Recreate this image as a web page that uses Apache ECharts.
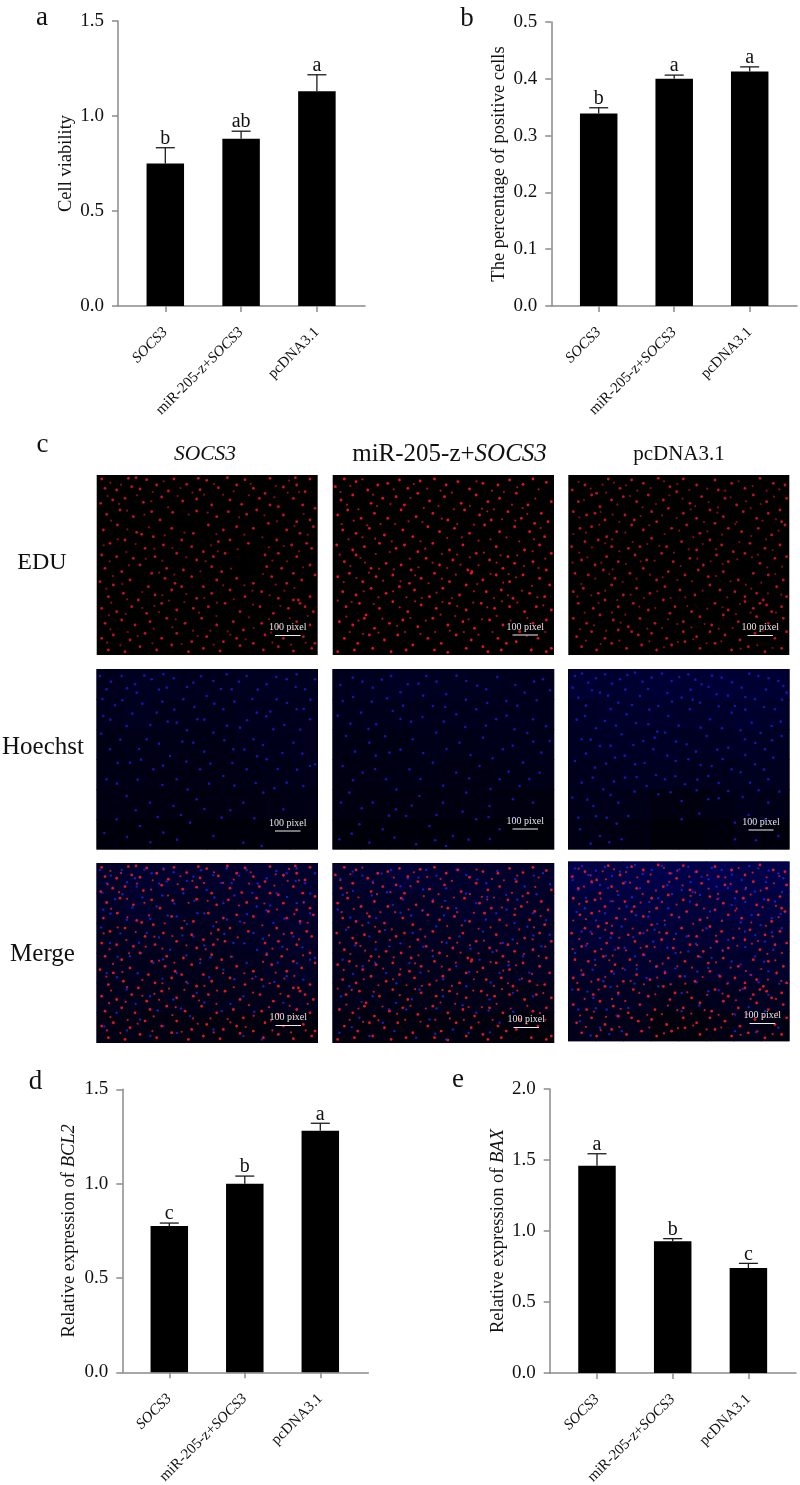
<!DOCTYPE html>
<html><head><meta charset="utf-8">
<style>html,body{margin:0;padding:0;background:#fff}#c{width:800px;height:1485px}</style>
<script src="https://cdn.jsdelivr.net/npm/echarts@6/dist/echarts.min.js"></script>
</head><body><div id="c"></div>
<script>
const categories=['SOCS3','miR-205-z+SOCS3','pcDNA3.1'];
const viability=[0.75,0.88,1.13], viabilityErr=[0.833,0.92,1.217], viabilityLetters=['b','ab','a'];
const positive=[0.339,0.400,0.413], positiveErr=[0.349,0.4065,0.421], positiveLetters=['b','a','a'];
const bcl2=[0.775,1.00,1.28], bcl2Err=[0.791,1.04,1.32], bcl2Letters=['c','b','a'];
const bax=[1.46,0.927,0.739], baxErr=[1.544,0.946,0.772], baxLetters=['a','b','c'];

const eduSocs=[[15,12],[95,10],[118,8],[150,14],[232,12],[305,10],[330,16],[392,8],[445,14],[520,10],[596,8],[640,12],[25,40],[60,45],[105,35],[130,42],[180,30],[215,48],[270,28],[310,44],[365,38],[420,30],[470,40],[505,55],[560,36],[600,30],[625,50],[12,85],[48,75],[85,70],[140,82],[195,66],[228,112],[258,78],[300,72],[345,90],[400,75],[435,88],[488,70],[520,90],[545,95],[590,70],[618,90],[655,100],[30,118],[70,105],[110,125],[165,110],[190,135],[300,108],[360,125],[395,110],[450,118],[480,105],[560,120],[600,140],[640,135],[20,165],[62,150],[120,172],[135,178],[170,185],[225,160],[290,175],[335,150],[380,165],[420,155],[470,160],[515,145],[570,165],[610,175],[650,155],[40,205],[85,195],[145,220],[200,210],[255,195],[285,215],[320,230],[365,200],[400,195],[455,205],[540,195],[585,210],[630,205],[15,240],[60,245],[110,250],[175,245],[240,235],[300,255],[350,245],[385,235],[505,240],[545,235],[600,245],[645,220],[25,280],[75,290],[130,270],[165,295],[210,280],[260,285],[345,275],[375,290],[510,275],[555,280],[590,295],[640,270],[10,320],[50,330],[100,315],[155,335],[205,310],[235,325],[285,305],[320,335],[360,315],[420,310],[470,325],[525,305],[570,325],[615,315],[655,300],[35,365],[80,355],[125,375],[175,360],[225,345],[255,335],[300,370],[345,355],[400,345],[445,365],[495,350],[545,370],[590,375],[610,385],[640,365],[15,400],[60,410],[105,395],[150,415],[195,385],[240,405],[290,400],[335,395],[385,385],[430,410],[490,395],[530,415],[575,400],[605,375],[625,395],[650,410],[25,445],[75,435],[115,450],[160,440],[210,430],[265,445],[315,430],[360,450],[410,440],[440,465],[495,445],[545,455],[600,440],[640,450],[15,490],[50,480],[100,495],[145,475],[195,490],[240,475],[285,500],[330,485],[380,500],[420,490],[470,505],[505,480],[560,490],[620,485],[655,505],[35,525],[85,530],[130,515],[180,525],[225,510],[275,530],[320,520],[370,528],[430,512],[500,525],[545,515],[590,528],[645,520]];
const eduMir=[[8,35],[35,12],[70,20],[105,45],[135,30],[165,25],[200,15],[225,40],[262,18],[305,12],[340,30],[375,20],[410,42],[450,25],[495,30],[530,15],[570,28],[600,12],[640,22],[25,75],[60,60],[115,85],[150,70],[190,65],[215,90],[255,55],[290,78],[335,65],[385,85],[430,60],[465,80],[500,70],[550,55],[585,90],[625,115],[655,80],[15,120],[45,105],[85,130],[125,115],[165,130],[205,105],[250,125],[300,115],[345,135],[395,105],[440,120],[475,135],[525,110],[565,130],[605,145],[645,140],[30,165],[70,175],[110,160],[155,180],[210,165],[240,185],[285,155],[320,170],[365,160],[410,175],[455,150],[500,170],[545,155],[590,170],[635,185],[12,210],[60,225],[95,215],[140,205],[190,220],[215,210],[255,230],[300,205],[350,225],[390,210],[430,235],[490,215],[525,245],[575,225],[620,210],[655,235],[35,260],[70,240],[115,280],[160,265],[205,270],[235,285],[280,250],[320,270],[360,255],[405,285],[470,255],[510,280],[545,265],[600,260],[640,285],[15,305],[50,295],[90,320],[130,305],[180,300],[230,325],[265,310],[305,295],[350,320],[415,295],[417,290],[450,315],[490,300],[530,320],[570,300],[620,310],[650,330],[30,350],[70,360],[115,340],[160,355],[200,335],[245,345],[290,365],[330,340],[380,360],[400,330],[460,350],[505,345],[540,370],[590,355],[635,365],[40,395],[80,385],[100,420],[140,400],[180,380],[225,410],[265,390],[310,400],[350,385],[400,405],[445,385],[485,400],[530,395],[575,410],[610,395],[655,405],[20,440],[60,450],[95,430],[125,460],[170,445],[210,435],[255,455],[300,430],[345,450],[390,440],[425,460],[470,435],[510,450],[560,470],[600,445],[640,435],[35,490],[75,505],[110,480],[155,495],[195,480],[240,510],[285,490],[325,505],[370,480],[415,495],[450,515],[495,490],[520,505],[550,500],[615,490],[655,520],[15,530],[65,525],[120,520],[175,530],[220,525],[305,525],[345,532],[400,520],[465,530],[505,525],[595,525],[640,530]];
const eduPc=[[12,45],[50,30],[85,55],[120,12],[155,40],[190,15],[225,25],[270,10],[305,35],[345,12],[385,30],[440,15],[450,45],[490,25],[530,40],[575,10],[615,25],[650,30],[30,80],[70,60],[95,95],[130,75],[165,65],[205,80],[240,60],[285,75],[325,50],[365,85],[400,65],[470,70],[505,90],[555,60],[595,80],[635,105],[655,70],[15,110],[55,120],[80,115],[110,135],[170,120],[198,135],[250,110],[300,100],[345,115],[385,130],[425,105],[465,125],[525,110],[565,130],[600,115],[640,140],[35,160],[70,155],[115,185],[145,170],[190,150],[225,165],[265,140],[310,160],[355,150],[395,175],[440,145],[480,160],[520,170],[570,160],[610,180],[650,150],[10,215],[50,200],[90,195],[130,215],[180,220],[215,215],[250,190],[295,215],[340,200],[385,225],[425,195],[460,210],[495,230],[545,205],[590,220],[635,210],[40,255],[80,270],[115,245],[150,260],[200,240],[235,255],[280,235],[315,260],[365,250],[405,270],[445,240],[480,260],[530,235],[575,265],[620,250],[655,245],[20,295],[60,300],[105,285],[140,310],[185,295],[225,280],[265,315],[300,290],[350,300],[390,285],[420,305],[465,290],[510,315],[555,295],[600,300],[645,315],[15,350],[45,340],[90,355],[130,330],[165,360],[205,340],[245,355],[290,335],[335,345],[380,360],[425,330],[455,345],[500,350],[530,365],[565,355],[585,375],[625,335],[655,365],[30,385],[75,400],[110,375],[150,395],[195,385],[240,405],[285,375],[320,395],[370,410],[440,385],[480,405],[530,380],[555,400],[575,385],[595,390],[610,410],[640,395],[15,430],[55,445],[95,420],[135,435],[180,455],[215,430],[260,445],[305,415],[345,440],[395,425],[430,450],[465,420],[510,440],[565,425],[600,445],[645,430],[25,485],[70,470],[110,490],[150,465],[190,470],[210,480],[250,475],[295,490],[345,470],[385,485],[425,470],[470,480],[515,495],[560,475],[620,490],[655,470],[40,515],[85,525],[130,505],[175,520],[220,510],[265,525],[310,510],[350,500],[395,520],[440,505],[490,525],[540,515],[590,530],[640,520]];
// fainter red nuclei between the bright ones
const eduSocsDim=[[41,23],[73,29],[168,51],[201,19],[251,39],[287,53],[352,27],[411,49],[462,27],[537,33],[577,17],[33,63],[67,87],[121,61],[163,79],[243,63],[322,59],[379,59],[457,61],[533,67],[573,53],[607,51],[91,107],[143,119],[214,97],[276,119],[333,113],[427,127],[503,121],[541,139],[621,117],[43,137],[92,163],[157,157],[204,181],[263,173],[359,177],[443,179],[497,187],[593,153],[633,179],[21,211],[63,193],[117,207],[173,221],[227,219],[343,211],[423,223],[517,217],[561,213],[607,229],[39,259],[89,231],[147,251],[197,257],[269,247],[327,259],[363,229],[527,257],[571,259],[619,277],[49,303],[97,271],[187,293],[233,299],[311,289],[403,281],[443,331],[499,297],[537,329],[593,339],[29,341],[77,327],[137,351],[197,361],[269,357],[323,369],[379,331],[467,347],[519,361],[563,347],[43,383],[91,373],[173,393],[217,377],[263,381],[361,383],[411,373],[469,389],[551,393],[633,423],[37,421],[87,417],[137,399],[187,411],[237,433],[307,413],[359,423],[457,427],[517,433],[579,429],[41,463],[93,471],[171,461],[227,457],[289,467],[341,467],[393,469],[471,459],[523,473],[593,463],[31,503],[71,511],[123,483],[167,505],[255,507],[303,483],[351,509],[401,479],[447,493],[527,503],[583,509],[627,503]];
const eduMirDim=[[23,51],[53,33],[89,13],[121,59],[183,43],[243,27],[283,41],[323,47],[357,53],[431,19],[477,47],[513,51],[553,37],[617,43],[43,89],[77,103],[133,93],[173,87],[233,69],[273,99],[317,93],[363,103],[411,93],[447,101],[483,103],[537,89],[569,99],[607,71],[27,147],[63,137],[103,151],[143,147],[187,147],[227,139],[269,141],[327,131],[373,147],[423,149],[463,109],[507,133],[547,137],[583,117],[623,159],[47,193],[89,187],[127,191],[177,199],[263,199],[343,189],[387,187],[437,197],[473,193],[521,187],[559,199],[603,193],[21,239],[83,249],[129,237],[171,231],[231,251],[277,221],[327,237],[373,239],[411,247],[453,233],[503,241],[553,241],[599,229],[637,251],[53,273],[97,263],[139,281],[183,283],[257,277],[299,263],[343,279],[383,269],[437,271],[491,263],[527,297],[573,273],[617,279],[33,321],[71,309],[109,293],[151,317],[203,319],[247,301],[287,325],[327,311],[369,299],[433,327],[473,297],[511,323],[549,307],[597,333],[93,349],[137,367],[181,349],[221,367],[267,369],[311,353],[357,369],[423,349],[483,369],[525,361],[567,347],[613,367],[15,377],[57,381],[123,387],[201,397],[247,379],[329,381],[373,393],[421,383],[463,397],[507,379],[553,383],[631,391],[41,425],[77,437],[149,431],[193,453],[233,429],[279,437],[323,419],[367,423],[407,433],[447,433],[491,423],[533,437],[583,429],[621,451],[51,471],[91,477],[137,473],[217,471],[263,477],[307,471],[351,467],[393,471],[437,479],[479,471],[581,483],[637,471]];
const eduPcDim=[[31,21],[67,41],[103,29],[137,23],[173,31],[207,47],[247,39],[287,19],[327,27],[363,45],[417,41],[471,47],[511,19],[553,33],[595,47],[633,43],[47,75],[113,53],[147,89],[185,63],[223,97],[263,87],[303,61],[343,71],[381,93],[421,81],[449,97],[487,67],[533,79],[577,87],[617,65],[33,127],[97,111],[133,119],[153,141],[217,123],[281,121],[325,129],[367,103],[407,141],[447,113],[505,141],[547,99],[583,137],[623,133],[15,177],[53,173],[93,149],[131,193],[171,173],[243,151],[289,177],[333,167],[375,187],[417,169],[461,179],[501,147],[549,183],[593,193],[631,167],[33,233],[71,217],[111,205],[153,229],[193,201],[237,207],[273,213],[317,233],[361,223],[403,207],[443,223],[513,201],[569,239],[613,225],[13,263],[57,247],[99,263],[133,283],[173,267],[217,259],[259,257],[337,273],[387,251],[427,259],[463,267],[507,253],[551,247],[597,277],[641,275],[39,327],[81,311],[123,297],[163,321],[205,311],[245,299],[283,307],[327,315],[371,319],[443,303],[487,319],[533,329],[579,323],[621,297],[27,365],[69,361],[111,347],[147,375],[187,359],[227,369],[267,349],[307,369],[351,367],[403,347],[477,367],[515,387],[549,341],[599,355],[639,359],[49,413],[91,385],[131,413],[171,419],[213,395],[261,399],[299,433],[357,393],[417,401],[463,397],[503,417],[547,413],[623,413],[35,463],[77,451],[113,467],[157,443],[237,461],[281,459],[327,447],[369,457],[409,447],[451,461],[493,459],[537,459],[585,467],[627,455],[53,497],[97,507],[153,497],[243,499],[287,517],[329,501],[375,493],[415,505],[459,499],[517,521],[567,511],[613,519]];

// Blue (Hoechst) nuclei
const hoeSocs=[[55,108],[115,45],[120,70],[75,20],[165,30],[210,55],[302,150],[260,90],[350,35],[405,60],[450,20],[510,45],[570,30],[625,60],[640,290],[655,285],[600,120],[540,90],[480,130],[430,175],[380,120],[330,80],[240,160],[180,130],[30,60],[20,140],[90,170],[150,210],[220,260],[290,220],[350,190],[410,240],[470,210],[530,180],[590,220],[640,150],[40,240],[100,280],[170,300],[240,330],[310,300],[380,320],[450,300],[510,270],[570,340],[620,350],[30,330],[90,380],[160,400],[230,410],[300,390],[375,445],[440,400],[500,370],[560,420],[60,450],[130,470],[200,490],[280,460],[350,500],[440,520],[495,530],[10,20],[200,15],[290,40],[390,15],[600,15],[655,30],[43,37],[91,57],[143,19],[187,61],[231,27],[271,53],[313,21],[373,59],[427,37],[483,61],[539,23],[597,53],[641,91],[17,89],[77,93],[137,103],[197,97],[233,121],[293,113],[353,103],[413,97],[467,89],[521,127],[571,101],[621,119],[41,151],[107,133],[161,167],[213,157],[271,183],[323,151],[391,169],[451,153],[509,141],[563,167],[611,181],[13,193],[71,211],[127,239],[187,223],[257,217],[323,247],[383,213],[443,241],[499,227],[557,251],[617,253],[63,281],[133,271],[199,289],[269,277],[341,283],[407,281],[481,261],[543,299],[601,301],[61,343],[123,331],[197,347],[273,361],[337,343],[413,349],[477,341],[533,357],[117,423],[183,443],[253,437],[323,419],[401,423],[473,447],[23,491],[91,503],[161,519],[241,511]];
const hoeMir=[[180,125],[130,165],[235,157],[625,250],[650,215],[60,25],[120,55],[175,20],[225,45],[280,20],[340,75],[400,35],[460,60],[520,95],[575,70],[630,30],[30,95],[85,130],[300,110],[370,135],[430,120],[490,150],[545,180],[600,150],[40,200],[110,220],[170,250],[240,210],[310,190],[380,220],[450,205],[510,240],[570,280],[620,310],[30,290],[90,310],[160,330],[230,300],[300,280],[370,310],[440,290],[500,330],[560,350],[50,370],[120,400],[190,420],[260,380],[330,400],[400,370],[470,410],[540,390],[25,400],[80,465],[150,480],[220,440],[290,470],[360,500],[430,450],[500,480],[600,400],[20,510],[110,520],[250,525],[340,530],[23,47],[89,37],[147,31],[203,69],[257,43],[311,37],[371,19],[433,49],[493,23],[547,47],[603,37],[651,63],[61,83],[117,97],[163,87],[211,109],[271,79],[337,113],[399,91],[463,101],[553,109],[611,93],[15,139],[53,163],[107,179],[157,201],[203,149],[269,143],[333,157],[397,173],[459,169],[521,139],[583,191],[639,171],[67,247],[129,259],[203,241],[271,251],[341,239],[413,257],[479,267],[539,229],[601,217],[61,333],[127,299],[191,361],[263,329],[331,349],[409,327],[473,359],[527,307],[589,329],[87,417],[169,439],[237,409],[311,437],[389,427],[467,443],[541,447],[57,493],[185,505],[307,513],[407,511],[471,509]];
const hoePc=[[20,20],[60,40],[110,15],[155,30],[200,10],[250,25],[310,35],[360,15],[400,45],[460,25],[520,55],[570,20],[630,35],[655,70],[30,85],[95,70],[150,100],[215,80],[270,110],[340,85],[395,100],[445,75],[500,110],[560,90],[620,120],[645,50],[50,140],[110,155],[175,135],[240,165],[300,140],[365,120],[425,150],[490,130],[550,160],[610,170],[40,210],[95,230],[160,195],[225,215],[290,190],[322,275],[255,240],[355,225],[415,200],[480,235],[530,210],[590,240],[640,200],[20,275],[80,295],[140,265],[200,285],[360,270],[430,290],[490,300],[560,285],[615,265],[40,340],[105,360],[170,325],[235,350],[290,330],[350,345],[420,320],[480,365],[545,340],[600,330],[12,385],[75,410],[150,400],[270,375],[340,395],[420,390],[600,400],[30,445],[115,445],[180,440],[340,450],[500,460],[590,450],[35,480],[95,500],[160,510],[500,510],[630,500],[41,13],[83,27],[131,43],[177,17],[223,37],[281,13],[333,23],[381,31],[431,19],[491,39],[543,13],[601,27],[13,55],[71,63],[119,79],[171,61],[239,59],[297,71],[367,61],[421,53],[479,79],[531,83],[593,61],[641,91],[53,109],[127,119],[191,107],[243,121],[311,97],[373,91],[451,111],[531,121],[587,113],[25,151],[83,177],[143,169],[203,161],[267,187],[331,169],[397,175],[461,177],[517,183],[577,191],[637,157],[67,211],[127,229],[195,227],[259,205],[323,217],[383,247],[447,241],[561,221],[611,213],[53,253],[113,283],[169,259],[229,281],[297,259],[397,287],[463,269],[531,257],[587,301],[73,325],[137,337],[205,323],[263,317],[321,321],[387,331],[451,341],[517,309],[571,363],[57,391],[127,377],[199,367],[307,369],[385,363],[451,387],[523,383],[633,367],[83,441],[145,463],[393,433],[541,437],[67,523],[123,519],[563,513]];

// Background blue level, rows top to bottom, eight cells across
const hazeSocs=[[40,46,44,42,42,44,46,44],[38,44,36,34,36,40,42,40],[30,32,32,30,30,34,38,40],[28,28,26,26,26,28,32,36],[26,24,24,22,24,24,26,28],[18,18,16,16,14,14,14,12]];
const hazeMir=[[42,44,52,46,44,44,42,40],[36,38,38,38,40,42,40,38],[30,30,30,34,32,34,36,36],[26,26,28,28,26,26,30,32],[24,22,20,22,24,24,22,22],[16,14,14,14,16,14,12,10]];
const hazePc=[[70,66,70,74,72,78,70,72],[56,60,62,62,58,60,66,62],[50,54,52,54,50,50,54,50],[42,42,46,46,40,42,44,44],[36,36,32,24,22,30,34,32],[28,26,24,12,12,18,24,18]];

const scaleBarSpots=[[275,300.5,635.5],[512.5,538,635],[747.5,773,635.5],[275,300.5,831],[512.5,538,829],[748.5,773.5,830],[275.5,301,1025.5],[513.5,539,1027.5],[749.5,775,1023.5]];
const brightRed=['#cc1020','#ee1020','#c81020'], dimRed=['#8a0c14','#b01018','#8a0c14'];

const FONT='"Liberation Serif","Times New Roman",serif', TXT='#111', AXIS='#8a8a8a';

const charts=[
 {vals:viability,errs:viabilityErr,letters:viabilityLetters,max:1.5,step:0.5,x0:118,x1:365,c0:165.3,band:75.8,top:21,bottom:306,name:'Cell viability',gap:42},
 {vals:positive,errs:positiveErr,letters:positiveLetters,max:0.5,step:0.1,x0:551.3,x1:797,c0:598.7,band:75.5,top:22,bottom:306,name:'The percentage of positive cells',gap:43},
 {vals:bcl2,errs:bcl2Err,letters:bcl2Letters,max:1.5,step:0.5,x0:122.3,x1:368.3,c0:169.3,band:75.5,top:1089.3,bottom:1372.3,name:'Relative expression of {i|BCL2}',gap:44},
 {vals:bax,errs:baxErr,letters:baxLetters,max:2,step:0.5,x0:549.7,x1:796,c0:597,band:75.7,top:1089,bottom:1373,name:'Relative expression of {i|BAX}',gap:42}
];

const grid=[],xAxis=[],yAxis=[],series=[];
const ital=sz=>({i:{fontStyle:'italic',fontFamily:FONT,fontSize:sz,color:TXT}});

charts.forEach((c,k)=>{
  const g=grid.length;
  grid.push({left:c.c0-c.band/2,width:c.band*3,top:c.top,height:c.bottom-c.top,outerBoundsMode:'none'});
  xAxis.push({gridIndex:g,type:'category',data:categories,
    axisLine:{show:false},
    axisTick:{show:true,alignWithLabel:true,length:6,lineStyle:{color:AXIS,width:1.5}},
    axisLabel:{rotate:45,interval:0,margin:24,fontFamily:FONT,fontSize:15,color:TXT,
      formatter:v=>v.replace('SOCS3','{i|SOCS3}'),rich:ital(15)}});
  yAxis.push({gridIndex:g,type:'value',min:0,max:c.max,interval:c.step,
    offset:c.c0-c.band/2-c.x0,
    name:c.name,nameLocation:'middle',nameGap:c.gap,
    nameTextStyle:{fontFamily:FONT,fontSize:18.5,color:TXT,rich:ital(18.5)},
    splitLine:{show:false},
    axisLine:{show:true,lineStyle:{color:AXIS,width:1.5}},
    axisTick:{show:true,length:6,lineStyle:{color:AXIS,width:1.5}},
    axisLabel:{margin:14,padding:[4,0,0,0],fontFamily:FONT,fontSize:19,color:TXT,formatter:v=>v.toFixed(1)}});
  series.push({type:'bar',xAxisIndex:g,yAxisIndex:g,data:c.vals,barWidth:37.5,itemStyle:{color:'#000'},silent:true,z:3});
  series.push({type:'custom',xAxisIndex:g,yAxisIndex:g,silent:true,z:4,clip:false,
    data:c.vals.map((v,i)=>[i,v,c.errs[i],c.letters[i]]),
    encode:{x:0,y:2},
    renderItem:(params,api)=>{
      const a=api.coord([api.value(0),api.value(1)]), b=api.coord([api.value(0),api.value(2)]);
      const st={stroke:'#1a1a1a',lineWidth:1.3};
      return {type:'group',children:[
        {type:'line',shape:{x1:a[0],y1:a[1],x2:a[0],y2:b[1]},style:st},
        {type:'line',shape:{x1:a[0]-9.5,y1:b[1],x2:a[0]+9.5,y2:b[1]},style:st},
        {type:'text',style:{text:c.letters[params.dataIndex],x:a[0],y:b[1]+1,align:'center',verticalAlign:'bottom',
          font:'20px '+FONT,fill:TXT}}
      ]};
    }});
});
charts.forEach(c=>{
  const g=grid.length;
  grid.push({left:c.x0,width:c.x1-c.x0,top:c.bottom-10,height:10,outerBoundsMode:'none'});
  xAxis.push({gridIndex:g,type:'value',min:0,max:1,axisLine:{show:true,onZero:false,lineStyle:{color:AXIS,width:1.5}},axisTick:{show:false},axisLabel:{show:false},splitLine:{show:false}});
  yAxis.push({gridIndex:g,type:'value',min:0,max:1,show:false});
});

const colX=[[96.7,317.7],[332.7,554],[568.3,789.3]];
const rowY=[[475,655],[669.3,849.3],[863.3,1042.7]];
const reds=[eduSocs,eduMir,eduPc], redsDim=[eduSocsDim,eduMirDim,eduPcDim], blues=[hoeSocs,hoeMir,hoePc], hazes=[hazeSocs,hazeMir,hazePc];
rowY.forEach((ry,r)=>colX.forEach((cx,col)=>{
  const g=grid.length;
  const top=(r===2&&col===2)?861.7:ry[0];
  grid.push({left:cx[0],width:cx[1]-cx[0],top:top,height:ry[1]-ry[0],show:true,backgroundColor:'#000',borderWidth:0,outerBoundsMode:'none'});
  xAxis.push({gridIndex:g,type:'value',min:0,max:663,show:false});
  yAxis.push({gridIndex:g,type:'value',min:0,max:540,inverse:true,show:false});
  const base={xAxisIndex:g,yAxisIndex:g,type:'scatter',silent:true,clip:true,z:2,animation:false};
  if(r>0){
    const boost=r===2?1.0:0.7;
    const hz=[];
    hazes[col].forEach((row,j)=>row.forEach((v,i)=>{
      hz.push({value:[(i+.5)*663/8,(j+.5)*540/6],itemStyle:{color:'rgb(0,0,'+Math.round(v*boost)+')',opacity:1}});
    }));
    series.push({...base,data:hz,symbol:'rect',symbolSize:[(cx[1]-cx[0])/8+.6,(ry[1]-ry[0])/6+.6]});
    series.push({...base,data:blues[col],symbol:'circle',symbolSize:r===2?2.4:2.6,itemStyle:{opacity:1,color:r===2?'#1c1cc0':'#1616b0'}});
  }
  if(r!==1){
    series.push({...base,data:redsDim[col],symbol:'circle',symbolSize:2.2,itemStyle:{opacity:1,color:r===2?'#c81428':dimRed[col]},z:3});
    series.push({...base,data:reds[col],symbol:'circle',symbolSize:2.8,itemStyle:{opacity:1,color:r===2?'#e81424':brightRed[col]},z:3});
  }
}));

const label=(text,x,base,size,extra)=>({type:'text',z:20,silent:true,style:Object.assign({text,x,y:base-.83*size,font:size+'px '+FONT,fill:TXT,align:'center',verticalAlign:'top'},extra||{})});
const graphic=[
  label('a',42,27,27),label('b',467,27.5,27),label('c',42.5,454,27),label('d',35.5,1091,27),label('e',458,1089,27),
  label('EDU',42,571,24),label('Hoechst',43,756,25),label('Merge',42.5,963,25),
  label('SOCS3',205,461,21.5,{font:'italic 21.5px '+FONT}),
  label('pcDNA3.1',679,461.7,21),
  {type:'text',z:20,silent:true,style:{x:449.5,y:462.3-.83*25,align:'center',verticalAlign:'top',fill:TXT,font:'25px '+FONT,
    text:'miR-205-z+{i|SOCS3}',rich:{i:{font:'italic 25px '+FONT,fill:TXT}}}}
];
scaleBarSpots.forEach(s=>{
  graphic.push({type:'line',z:20,silent:true,shape:{x1:s[0],y1:s[2],x2:s[1],y2:s[2]},style:{stroke:'#eee',lineWidth:1}});
  graphic.push({type:'text',z:20,silent:true,style:{text:'100 pixel',x:(s[0]+s[1])/2,y:s[2]-3,align:'center',verticalAlign:'bottom',font:'10px '+FONT,fill:'#e4e4e4'}});
});

const chart=echarts.init(document.getElementById('c'),null,{renderer:'canvas'});
chart.setOption({animation:false,backgroundColor:'#fff',tooltip:{show:false},legend:{show:false},grid,xAxis,yAxis,series,graphic});
</script></body></html>
